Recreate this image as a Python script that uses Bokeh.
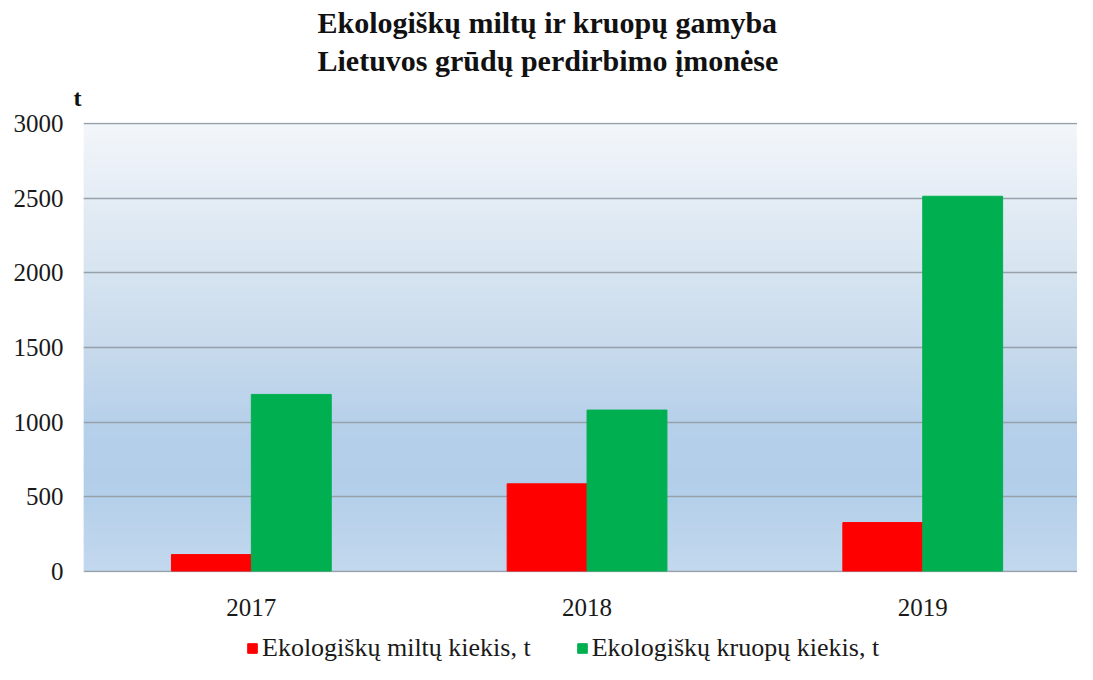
from bokeh.plotting import figure
from bokeh.layouts import column
from bokeh.models import (Range1d, Title, Legend, LegendItem,
                          BoxAnnotation, ColumnDataSource, FixedTicker)
from bokeh.transform import dodge
from bokeh.embed import file_html
from bokeh.resources import INLINE

# ---- data ----
years = ["2017", "2018", "2019"]
miltu = [110, 585, 325]        # Ekologiškų miltų kiekis, t
kruopu = [1185, 1080, 2515]    # Ekologiškų kruopų kiekis, t
y_ticks = [0, 500, 1000, 1500, 2000, 2500, 3000]

title_line1 = "Ekologiškų miltų ir kruopų gamyba"
title_line2 = "Lietuvos grūdų perdirbimo įmonėse"
series_names = ["Ekologiškų miltų kiekis, t", "Ekologiškų kruopų kiekis, t"]
unit_label = "t"

# ---- style ----
SERIF = "Liberation Serif"
RED = "#FF0000"
GREEN = "#00B050"
TXT = "#1a1a1a"
# background gradient stops (value on y axis, rgb)
grad_stops = [(0, (194, 216, 238)), (300, (186, 211, 235)), (600, (178, 206, 233)),
              (1000, (182, 208, 234)), (1500, (200, 218, 236)), (2000, (214, 228, 240)),
              (2500, (228, 236, 245)), (3000, (243, 246, 250))]

idx = list(range(len(years)))
src = ColumnDataSource(dict(x=idx, year=years, miltu=miltu, kruopu=kruopu))

W = 1077
p = figure(width=W, height=622, x_range=Range1d(-0.5, 2.461),
           y_range=Range1d(-10, 3010),
           output_backend="svg", toolbar_location=None,
           min_border_left=83, min_border_right=0, min_border_top=122, min_border_bottom=50)
p.outline_line_color = None
p.background_fill_color = "white"
p.border_fill_color = "white"

# gradient background bands
def interp(v):
    for (v0, c0), (v1, c1) in zip(grad_stops[:-1], grad_stops[1:]):
        if v0 <= v <= v1:
            t = (v - v0) / (v1 - v0)
            return tuple(int(round(a + (b - a) * t)) for a, b in zip(c0, c1))
    return grad_stops[-1][1]

step = 15
for i in range(3000 // step):
    lo = i * step
    col = interp(lo + step / 2)
    p.add_layout(BoxAnnotation(bottom=lo, top=min(lo + step * 1.6, 3000),
                               fill_color="#%02x%02x%02x" % col, fill_alpha=1.0,
                               line_color=None, level="image"))

bw = 0.238
r1 = p.vbar(x=dodge("x", -bw / 2), top="miltu", width=bw, source=src,
            fill_color=RED, line_color=RED)
r2 = p.vbar(x=dodge("x", bw / 2), top="kruopu", width=bw, source=src,
            fill_color=GREEN, line_color=GREEN)

# grid & axes
p.xgrid.grid_line_color = None
p.ygrid.grid_line_color = "#97a1aa"
p.ygrid.grid_line_width = 1.6
p.yaxis.ticker = FixedTicker(ticks=y_ticks)
p.xaxis.ticker = FixedTicker(ticks=idx)
p.xaxis.major_label_overrides = {i: y for i, y in zip(idx, years)}

for ax in (p.xaxis[0], p.yaxis[0]):
    ax.axis_line_color = None
    ax.major_tick_line_color = None
    ax.minor_tick_line_color = None
    ax.major_label_text_font = SERIF
    ax.major_label_text_font_size = "25px"
    ax.major_label_text_color = TXT
p.xaxis.major_label_standoff = 20
p.yaxis.major_label_standoff = 14

# titles (innermost first); a tiny spacer keeps them clear of the frame
p.title = None
p.add_layout(Title(text="\u00a0", text_font_size="1px", standoff=4), "above")
p.add_layout(Title(text=unit_label, align="left", offset=-10, text_font=SERIF,
                   text_font_size="24px", text_font_style="bold", text_color="#111111",
                   standoff=9), "above")
p.add_layout(Title(text=title_line2, align="left", offset=234, text_font=SERIF,
                   text_font_size="30px", text_font_style="bold", text_color="#111111",
                   standoff=4), "above")
p.add_layout(Title(text=title_line1, align="left", offset=234, text_font=SERIF,
                   text_font_size="30px", text_font_style="bold", text_color="#111111",
                   standoff=2), "above")

# legend strip (separate small figure so the legend is not clipped)
leg = figure(width=W, height=42, x_range=Range1d(-0.5, 2.461), y_range=Range1d(0, 1),
             output_backend="svg", toolbar_location=None,
             min_border_left=0, min_border_right=0, min_border_top=0, min_border_bottom=0)
leg.axis.visible = False
leg.grid.visible = False
leg.outline_line_color = None
proxy1 = leg.vbar(x="x", top="miltu", width=bw, source=src, fill_color=RED,
                  line_color=RED, visible=False)
proxy2 = leg.vbar(x="x", top="kruopu", width=bw, source=src, fill_color=GREEN,
                  line_color=GREEN, visible=False)
legend = Legend(items=[LegendItem(label=series_names[0], renderers=[proxy1]),
                       LegendItem(label=series_names[1], renderers=[proxy2])],
                orientation="horizontal", location=(163, 1),
                label_text_font=SERIF, label_text_font_size="26px", label_text_color=TXT,
                glyph_width=12, glyph_height=12, label_standoff=4, spacing=45,
                inactive_fill_alpha=0,
                border_line_color=None, background_fill_alpha=0, padding=0, margin=0)
leg.add_layout(legend, "center")

layout = column(p, leg, spacing=0)
open("out.html", "w").write(file_html(layout, INLINE))
